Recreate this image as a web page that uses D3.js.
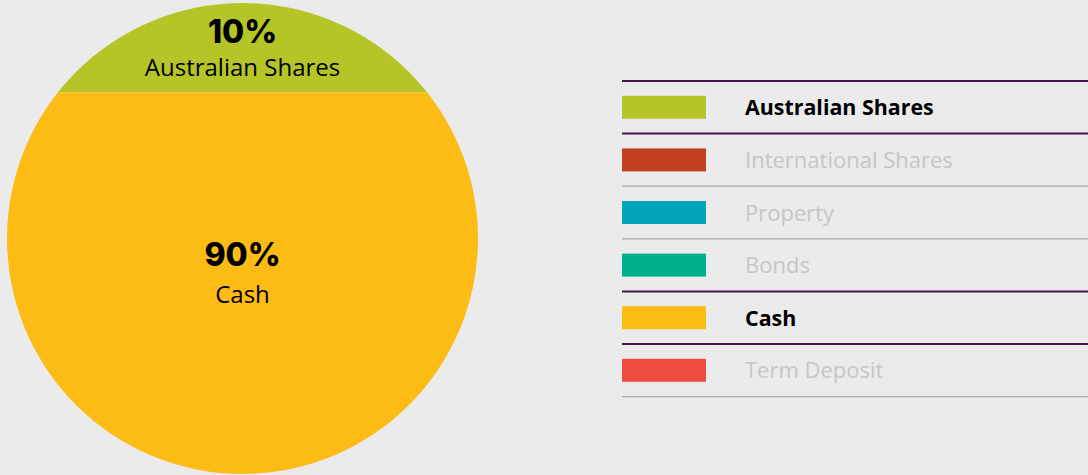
<!DOCTYPE html>
<html>
<head>
<meta charset="utf-8">
<script src="https://cdn.jsdelivr.net/npm/d3@7"></script>
<style>
  html, body { margin: 0; padding: 0; background: #ebebeb; }
  svg { display: block; }
</style>
</head>
<body>
<div id="chart"></div>
<script>
// asset allocation data
var categories = ["Australian Shares", "International Shares", "Property", "Bonds", "Cash", "Term Deposit"];
var values = [10, 0, 0, 0, 90, 0];
var colors = ["#b5c528", "#c43f1f", "#00a6b8", "#00b18f", "#fdbb16", "#f04b41"];

var width = 1088, height = 475;
var cx = 242.5, cy = 238.5, R = 235.5;
var minBand = 0.19; // smallest band (share of diameter) so labels fit

const svg = d3.select('#chart')
  .append('svg')
    .attr('width', width)
    .attr('height', height);

// share of circle area above a horizontal cut at depth h (0..2R)
function areaShare(h) {
  var theta = 2 * Math.acos(1 - h / R);
  return (theta - Math.sin(theta)) / (2 * Math.PI);
}
function depthFor(share) {
  var lo = 0, hi = 2 * R;
  for (var i = 0; i < 60; i++) {
    var mid = (lo + hi) / 2;
    if (areaShare(mid) < share) lo = mid; else hi = mid;
  }
  return lo;
}

var total = d3.sum(values);
var y = d3.scaleLinear().domain([0, 2 * R]).range([cy - R, cy + R]);

// build bands top to bottom
var bands = [];
var cum = 0, prevDepth = 0;
categories.forEach(function(c, i) {
  if (values[i] <= 0) return;
  cum += values[i];
  var d = cum >= total ? 2 * R : depthFor(cum / total);
  d = Math.max(d, prevDepth + minBand * 2 * R);
  d = Math.min(d, 2 * R);
  bands.push({name: c, value: values[i], color: colors[i], d0: prevDepth, d1: d});
  prevDepth = d;
});

svg.append("clipPath")
  .attr("id", "circleClip")
  .append("circle")
    .attr("cx", cx)
    .attr("cy", cy)
    .attr("r", R);

var pie = svg.append("g").attr("clip-path", "url(#circleClip)");

pie.selectAll("rect")
  .data(bands)
  .enter()
  .append("rect")
    .attr("x", cx - R)
    .attr("y", function(d) { return y(d.d0); })
    .attr("width", 2 * R)
    .attr("height", function(d) { return y(d.d1) - y(d.d0); })
    .attr("fill", function(d) { return d.color; });

// labels in each band
var lab = svg.selectAll("g.lab")
  .data(bands)
  .enter()
  .append("g")
    .attr("class", "lab")
    .attr("transform", function(d) { return "translate(" + cx + "," + y((d.d0 + d.d1) / 2) + ")"; });

lab.append("text")
  .attr("text-anchor", "middle")
  .attr("y", function(d, i) { return i === 0 ? -5 : -17; })
  .attr("font-family", "Inter, sans-serif")
  .attr("font-weight", 800)
  .attr("font-size", "32px")
  .attr("fill", "#000")
  .text(function(d) { return d.value + "%"; });

lab.append("text")
  .attr("text-anchor", "middle")
  .attr("y", function(d, i) { return i === 0 ? 28 : 20; })
  .attr("font-family", "'Open Sans', sans-serif")
  .attr("font-size", "24px")
  .attr("fill", "#000")
  .text(function(d) { return d.name; });

// legend
var lx = 622;
var rows = d3.scaleBand()
  .domain(categories)
  .range([81, 396.6]);

var legend = svg.append("g");

// separators: purple where next to an active row
var seps = d3.range(categories.length + 1).map(function(i) {
  var above = i > 0 && values[i - 1] > 0;
  var below = i < categories.length && values[i] > 0;
  return {i: i, active: above || below};
});
legend.selectAll("line")
  .data(seps)
  .enter()
  .append("line")
    .attr("x1", lx)
    .attr("x2", width)
    .attr("y1", function(d) { return d.i < categories.length ? rows(categories[d.i]) : rows.range()[1]; })
    .attr("y2", function(d) { return d.i < categories.length ? rows(categories[d.i]) : rows.range()[1]; })
    .attr("stroke", function(d) { return d.active ? "#4b1452" : "#a9a9a9"; })
    .attr("stroke-width", function(d) { return d.active ? 2 : 1.2; });

var row = legend.selectAll("g.row")
  .data(categories)
  .enter()
  .append("g")
    .attr("class", "row")
    .attr("transform", function(d) { return "translate(" + lx + "," + (rows(d) + rows.bandwidth() / 2) + ")"; });

row.append("rect")
  .attr("x", 0)
  .attr("y", -11.5)
  .attr("width", 84)
  .attr("height", 23)
  .attr("fill", function(d, i) { return colors[i]; });

row.append("text")
  .attr("x", 123)
  .attr("dy", "0.37em")
  .attr("font-family", "'Open Sans', sans-serif")
  .attr("font-size", function(d, i) { return values[i] > 0 ? "21.4px" : "22px"; })
  .attr("font-weight", function(d, i) { return values[i] > 0 ? 700 : 400; })
  .attr("fill", function(d, i) { return values[i] > 0 ? "#000" : "#c6c6c6"; })
  .text(function(d) { return d; });
</script>
</body>
</html>
